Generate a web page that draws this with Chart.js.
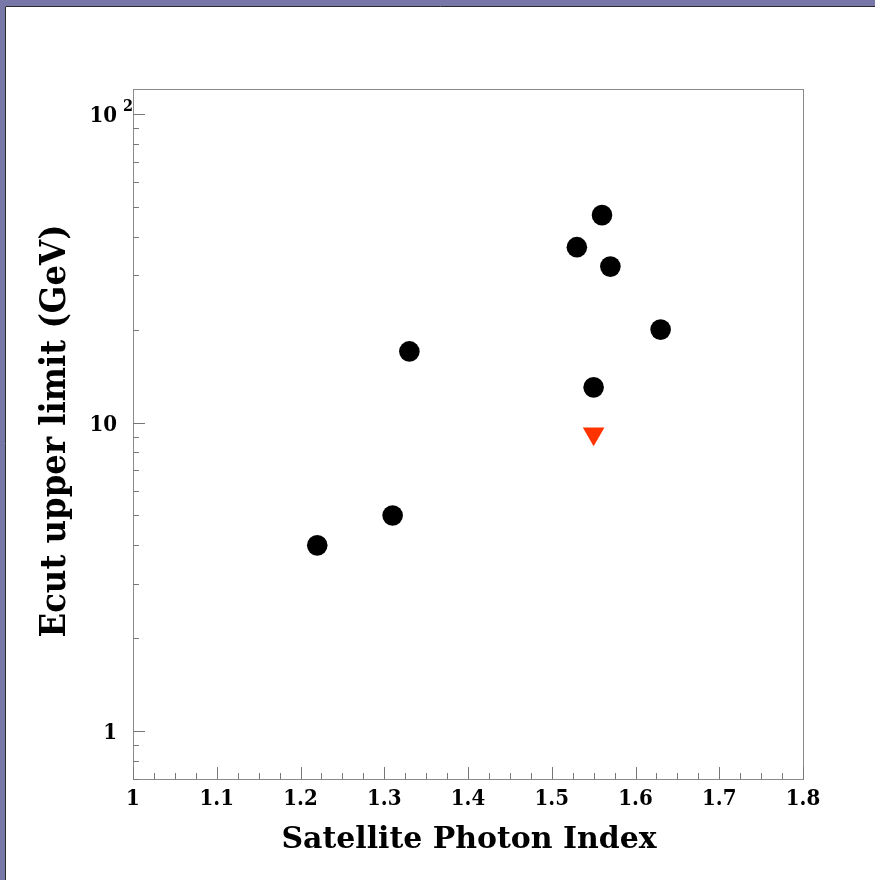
<!DOCTYPE html>
<html>
<head>
<meta charset="utf-8">
<script src="https://cdn.jsdelivr.net/npm/chart.js@4.4.1/dist/chart.umd.min.js"></script>
<style>
  html, body { margin: 0; padding: 0; background: #fff; }
  canvas { display: block; }
</style>
</head>
<body>
<canvas id="myChart" width="875" height="880"></canvas>
<script>
// fitted sources
var photonIndex = [1.22, 1.31, 1.33, 1.53, 1.55, 1.56, 1.57, 1.63];
var ecutLimit = [4.0, 5.0, 17, 37, 13, 47, 32, 20];
// source with only an upper limit
var limitIndex = [1.55];
var limitEcut = [9.2];

var xTickValues = [1, 1.1, 1.2, 1.3, 1.4, 1.5, 1.6, 1.7, 1.8];
var xTickLabels = ['1', '1.1', '1.2', '1.3', '1.4', '1.5', '1.6', '1.7', '1.8'];
var yTickValues = [1, 10, 100];
var yTickLabels = ['1', '10', '10'];
var yTickExponents = ['', '', '2'];

var xTitle = 'Satellite Photon Index';
var yTitle = 'Ecut upper limit (GeV)';

var serif = '"DejaVu Serif Condensed", "Liberation Serif", "DejaVu Serif", serif';

function toPoints(xs, ys) {
  return xs.map(function (x, i) { return { x: x, y: ys[i] }; });
}

// text squeezed/stretched to a given length
function fitText(ctx, text, x, y, len) {
  var w = ctx.measureText(text).width;
  ctx.save();
  ctx.translate(x, y);
  ctx.scale(len / w, 1);
  ctx.fillText(text, 0, 0);
  ctx.restore();
}

var framePlugin = {
  id: 'frame',
  beforeDraw: function (chart) {
    var ctx = chart.ctx;
    ctx.save();
    ctx.fillStyle = '#7878a8';
    ctx.fillRect(0, 0, chart.width, chart.height);
    ctx.fillStyle = '#ffffff';
    ctx.fillRect(5, 6, chart.width - 5, chart.height - 6);
    ctx.strokeStyle = '#2a2a2a';
    ctx.lineWidth = 1;
    ctx.beginPath();
    ctx.moveTo(5.5, chart.height);
    ctx.lineTo(5.5, 6.5);
    ctx.lineTo(chart.width, 6.5);
    ctx.stroke();
    ctx.restore();
  },
  beforeDatasetsDraw: function (chart) {
    var ctx = chart.ctx;
    var a = chart.chartArea;
    var xs = chart.scales.x;
    var ys = chart.scales.y;
    ctx.save();

    // box
    ctx.strokeStyle = '#8a8a8a';
    ctx.lineWidth = 1;
    ctx.strokeRect(a.left + 0.5, a.top + 0.5, a.right - a.left, a.bottom - a.top);

    // x ticks, pointing inward
    ctx.strokeStyle = '#777';
    ctx.beginPath();
    for (var i = 0; i <= 32; i++) {
      var v = 1 + i * 0.025;
      var px = Math.round(xs.getPixelForValue(v)) + 0.5;
      var len = (i % 4 === 0) ? 12 : 6;
      ctx.moveTo(px, a.bottom);
      ctx.lineTo(px, a.bottom - len);
    }
    // y ticks, log decades
    for (var d = -1; d <= 2; d++) {
      for (var k = 1; k <= 9; k++) {
        var val = k * Math.pow(10, d);
        if (val < ys.min || val > ys.max) continue;
        var py = Math.round(ys.getPixelForValue(val)) + 0.5;
        var l = (k === 1) ? 12 : 6;
        ctx.moveTo(a.left, py);
        ctx.lineTo(a.left + l, py);
      }
    }
    ctx.stroke();

    // tick labels
    ctx.fillStyle = '#000';
    ctx.textBaseline = 'alphabetic';
    ctx.font = 'bold 22px ' + serif;
    ctx.textAlign = 'center';
    xTickValues.forEach(function (v, i) {
      ctx.fillText(xTickLabels[i], xs.getPixelForValue(v), a.bottom + 26);
    });
    yTickValues.forEach(function (v, i) {
      var py = ys.getPixelForValue(v);
      ctx.font = 'bold 22px ' + serif;
      ctx.textAlign = 'right';
      ctx.fillText(yTickLabels[i], a.left - 16, py + 8);
      if (yTickExponents[i]) {
        ctx.font = 'bold 16px ' + serif;
        ctx.textAlign = 'left';
        ctx.fillText(yTickExponents[i], a.left - 10, py - 3);
      }
    });

    // axis titles
    ctx.font = 'bold 29px ' + serif;
    ctx.textAlign = 'center';
    fitText(ctx, xTitle, (a.left + a.right) / 2 + 1, 848, 375);
    ctx.save();
    ctx.translate(65, 431);
    ctx.rotate(-Math.PI / 2);
    ctx.font = 'bold 36px ' + serif;
    fitText(ctx, yTitle, 0, 0, 413);
    ctx.restore();

    ctx.restore();
  }
};

function makeChart() {
  var ctx = document.getElementById('myChart');
  return new Chart(ctx, {
    type: 'scatter',
    data: {
      datasets: [{
        label: 'Ecut',
        data: toPoints(photonIndex, ecutLimit),
        backgroundColor: '#000000',
        borderWidth: 0,
        pointRadius: 10.3,
        pointHoverRadius: 10.3
      }, {
        label: 'upper limit',
        data: toPoints(limitIndex, limitEcut),
        pointStyle: 'triangle',
        rotation: 180,
        backgroundColor: '#ff3300',
        borderWidth: 0,
        pointRadius: 12.5,
        pointHoverRadius: 12.5
      }]
    },
    options: {
      responsive: false,
      animation: false,
      devicePixelRatio: 1,
      layout: {
        padding: { left: 133, top: 89, right: 72, bottom: 101 }
      },
      scales: {
        x: { type: 'linear', min: 1, max: 1.8, display: false },
        y: { type: 'logarithmic', min: 0.706, max: 120.4, display: false }
      },
      plugins: {
        legend: { display: false },
        tooltip: { enabled: false }
      }
    },
    plugins: [framePlugin]
  });
}

makeChart();
</script>
</body>
</html>
